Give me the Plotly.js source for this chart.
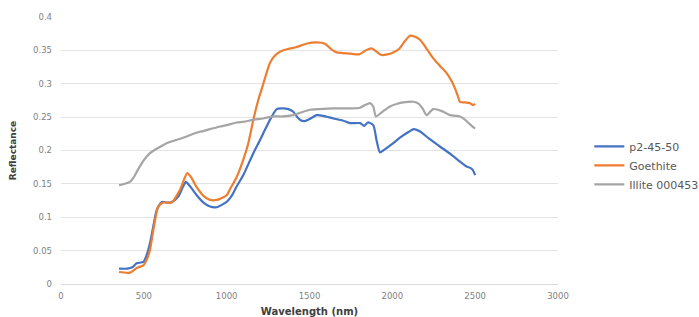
<!DOCTYPE html>
<html><head><meta charset="utf-8">
<script src="https://cdn.plot.ly/plotly-3.0.1.min.js"></script>
<style>html,body{margin:0;padding:0;background:#fff}#c{width:699px;height:317px}</style>
</head><body><div id="c"></div>
<script>
const seriesNames = ["p2-45-50", "Goethite", "Illite 000453"];
const blueX = [350,400,430,457,497,515,537,560,578,608,640,668,708,735,754,780,819,860,899,940,1000,1030,1060,1100,1161,1200,1241,1270,1302,1330,1372,1402,1420,1442,1470,1500,1543,1600,1644,1700,1744,1805,1830,1853,1885,1905,1925,1950,2000,2050,2100,2130,2170,2220,2287,2350,2400,2448,2470,2485,2500];
const blueY = [0.023,0.023,0.025,0.031,0.033,0.042,0.061,0.09,0.111,0.123,0.122,0.123,0.131,0.145,0.153,0.146,0.133,0.122,0.116,0.115,0.123,0.132,0.146,0.163,0.196,0.215,0.236,0.25,0.262,0.263,0.262,0.258,0.252,0.246,0.244,0.247,0.253,0.251,0.248,0.245,0.241,0.241,0.237,0.242,0.238,0.215,0.197,0.201,0.21,0.22,0.228,0.232,0.228,0.218,0.206,0.195,0.185,0.176,0.174,0.171,0.163];
const orangeX = [350,416,457,497,515,537,560,587,617,668,718,762,790,819,860,899,940,1000,1020,1060,1100,1130,1161,1190,1221,1261,1290,1322,1370,1422,1480,1543,1593,1630,1664,1700,1744,1800,1840,1875,1905,1935,1970,2005,2040,2070,2106,2140,2167,2200,2247,2290,2328,2360,2378,2395,2408,2440,2468,2488,2500];
const orangeY = [0.018,0.017,0.024,0.028,0.035,0.051,0.085,0.116,0.122,0.122,0.141,0.166,0.158,0.145,0.132,0.126,0.126,0.133,0.142,0.16,0.186,0.21,0.246,0.275,0.3,0.331,0.342,0.348,0.352,0.355,0.36,0.362,0.36,0.352,0.347,0.346,0.345,0.344,0.35,0.353,0.348,0.343,0.344,0.347,0.352,0.362,0.372,0.37,0.366,0.355,0.338,0.326,0.316,0.303,0.293,0.282,0.273,0.272,0.271,0.268,0.27];
const grayX = [350,416,440,457,490,537,580,638,700,759,800,839,900,960,1000,1060,1100,1161,1220,1281,1340,1402,1450,1503,1560,1644,1700,1750,1805,1835,1865,1885,1901,1940,1986,2030,2066,2127,2160,2185,2207,2247,2300,2348,2380,2408,2440,2470,2488,2500];
const grayY = [0.148,0.153,0.16,0.168,0.182,0.196,0.203,0.211,0.216,0.221,0.225,0.228,0.232,0.236,0.238,0.242,0.243,0.246,0.248,0.251,0.251,0.253,0.257,0.261,0.262,0.263,0.263,0.263,0.264,0.268,0.271,0.266,0.251,0.258,0.266,0.27,0.272,0.273,0.27,0.262,0.253,0.262,0.259,0.253,0.252,0.251,0.246,0.239,0.235,0.233];
const xTicks = [0,500,1000,1500,2000,2500,3000];
const yTicks = [0,0.05,0.1,0.15,0.2,0.25,0.3,0.35,0.4];
const yTickText = ["0","0.05","0.1","0.15","0.2","0.25","0.3","0.35","0.4"];

const colors = ["#4472C4","#ED7D31","#A5A5A5"];
const xs = [blueX, orangeX, grayX];
const ys = [blueY, orangeY, grayY];
const traces = seriesNames.map((n,i)=>({
  x: xs[i], y: ys[i], name: n, type: "scatter", mode: "lines",
  line: {color: colors[i], width: 2.2, shape: "spline", smoothing: 0.6}
}));
const tickFont = {family: "DejaVu Sans, sans-serif", size: 8.5, color: "#7f7f7f"};
const layout = {
  width: 699, height: 317,
  margin: {l: 61, r: 141, t: 17, b: 33, pad: 0, autoexpand: false},
  paper_bgcolor: "#fff", plot_bgcolor: "#fff",
  showlegend: true,
  legend: {x: 1.063, y: 0.57, xanchor: "left", yanchor: "top",
    font: {family: "DejaVu Sans, sans-serif", size: 11, color: "#595959"},
    tracegroupgap: 0, itemwidth: 30, bgcolor: "rgba(0,0,0,0)"},
  xaxis: {range: [0, 3000], tickvals: xTicks, ticktext: xTicks.map(String),
    showgrid: false, zeroline: false, showline: true, linecolor: "#d9d9d9", linewidth: 1,
    ticks: "", tickfont: tickFont, ticklabelstandoff: 4,
    title: {text: "<b>Wavelength (nm)</b>", font: {family: "DejaVu Sans, sans-serif", size: 10, color: "#404040"}, standoff: 8}},
  yaxis: {range: [0, 0.4], tickvals: yTicks, ticktext: yTickText,
    showgrid: true, gridcolor: "#e3e3e3", gridwidth: 1, zeroline: false, showline: false,
    ticks: "", tickfont: tickFont, ticklabelstandoff: 8,
    title: {text: "<b>Reflectance</b>", font: {family: "DejaVu Sans, sans-serif", size: 9, color: "#404040"}, standoff: 14}}
};
Plotly.newPlot("c", traces, layout, {displayModeBar: false, staticPlot: true});
</script></body></html>
